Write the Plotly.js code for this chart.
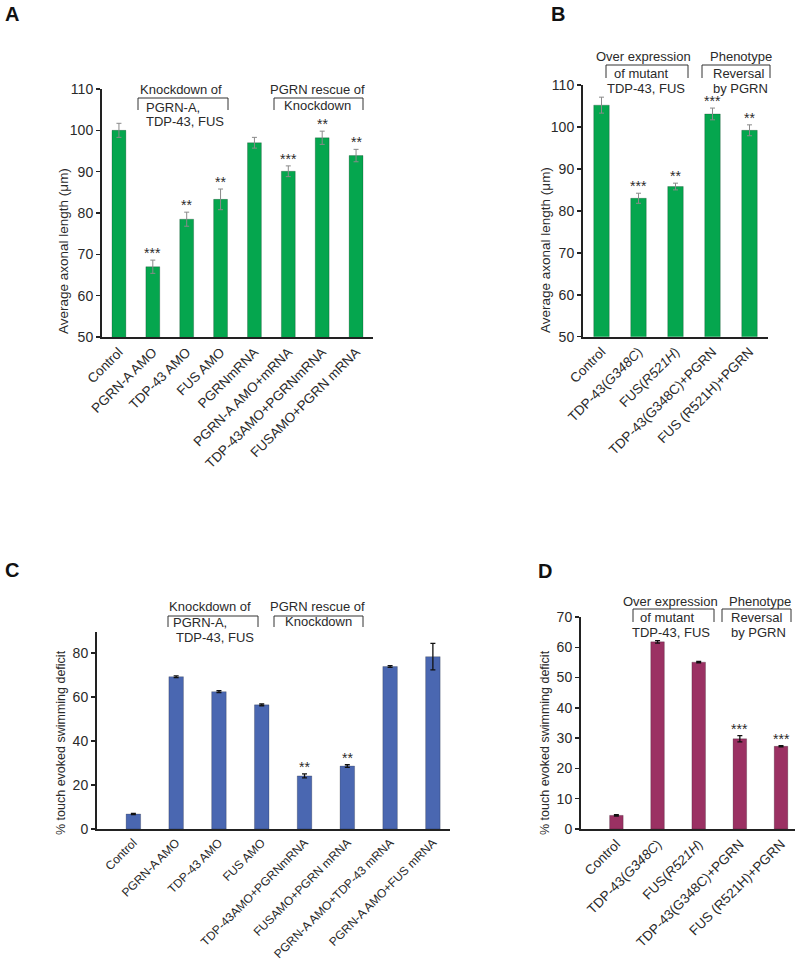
<!DOCTYPE html>
<html>
<head>
<meta charset="utf-8">
<script src="https://cdn.plot.ly/plotly-3.0.1.min.js"></script>
<style>html,body{margin:0;padding:0;background:#fff;}#chart{width:798px;height:960px;}</style>
</head>
<body>
<div id="chart"></div>
<script>
// ---------- DATA ----------
const catA = ['Control','PGRN-A AMO','TDP-43 AMO','FUS AMO','PGRNmRNA','PGRN-A AMO+mRNA','TDP-43AMO+PGRNmRNA','FUSAMO+PGRN mRNA'];
const valA = [100, 67.0, 78.5, 83.3, 97.0, 90.1, 98.2, 93.9];
const errA = [1.7, 1.6, 1.7, 2.5, 1.3, 1.3, 1.6, 1.5];
const sigA = ['', '***', '**', '**', '', '***', '**', '**'];

const catB = ['Control','TDP-43(<i>G348C</i>)','FUS(<i>R521H</i>)','TDP-43(G348C)+PGRN','FUS (R521H)+PGRN'];
const valB = [105.2, 83.0, 85.8, 103.1, 99.2];
const errB = [1.9, 1.2, 0.8, 1.4, 1.3];
const sigB = ['', '***', '**', '***', '**'];

const catC = ['Control','PGRN-A AMO','TDP-43 AMO','FUS AMO','TDP-43AMO+PGRNmRNA','FUSAMO+PGRN mRNA','PGRN-A AMO+TDP-43 mRNA','PGRN-A AMO+FUS mRNA'];
const valC = [6.8, 69.2, 62.4, 56.4, 24.1, 28.6, 73.8, 78.3];
const errC = [0.3, 0.4, 0.4, 0.4, 0.9, 0.6, 0.4, 6.0];
const sigC = ['', '', '', '', '**', '**', '', ''];

const catD = ['Control','TDP-43(<i>G348C</i>)','FUS(<i>R521H</i>)','TDP-43(G348C)+PGRN','FUS (R521H)+PGRN'];
const valD = [4.5, 61.8, 55.1, 29.8, 27.3];
const errD = [0.2, 0.4, 0.2, 1.0, 0.2];
const sigD = ['', '', '', '***', '***'];

const titleAB = 'Average axonal length (μm)';
const titleCD = '% touch evoked swimming deficit';

// ---------- STYLE / LAYOUT ----------
const W = 798, H = 960;
const X = px => px / W;
const Y = py => 1 - py / H;
const FONT = 'Arial, "Liberation Sans", sans-serif';
const TXT = '#2a2a2a';
const GREEN = '#05a64e', BLUE = '#4a67b1', MAROON = '#9b3163';

function bar(cat, val, err, color, xa, ya, width, ecol, ethick) {
  return {
    type: 'bar', x: cat, y: val, xaxis: xa, yaxis: ya, width: width,
    marker: {color: color, line: {color: 'rgba(0,0,0,0.35)', width: 0.6}},
    error_y: {type: 'data', array: err, visible: true, color: ecol, thickness: ethick, width: 2.5},
    hoverinfo: 'skip', showlegend: false
  };
}

const data = [
  bar(catA, valA, errA, GREEN, 'x', 'y', 0.41, '#8a8a8a', 1),
  bar(catB, valB, errB, GREEN, 'x2', 'y2', 0.42, '#8a8a8a', 1),
  bar(catC, valC, errC, BLUE, 'x3', 'y3', 0.34, '#111', 1.3),
  bar(catD, valD, errD, MAROON, 'x4', 'y4', 0.33, '#111', 1.3)
];

function xax(dom, range, anchor, fs) {
  return {domain: dom, range: range, anchor: anchor, type: 'category',
    showline: true, linecolor: '#222', linewidth: 2, ticks: '', showgrid: false, zeroline: false,
    tickangle: -45, tickfont: {family: FONT, size: fs, color: TXT}, fixedrange: true};
}
function yax(dom, range, dtick, anchor, tickvals) {
  const o = {domain: dom, range: range, anchor: anchor, dtick: dtick,
    showline: true, linecolor: '#222', linewidth: 2, ticks: 'outside', ticklen: 4, tickwidth: 1.5, tickcolor: '#222',
    showgrid: false, zeroline: false, tickfont: {family: FONT, size: 14, color: TXT}, fixedrange: true};
  if (tickvals) { o.tickvals = tickvals; o.tickmode = 'array'; }
  return o;
}

const layout = {
  width: W, height: H, margin: {l: 0, r: 0, t: 0, b: 0},
  paper_bgcolor: '#fff', plot_bgcolor: 'rgba(0,0,0,0)',
  font: {family: FONT, color: TXT},
  xaxis: xax([X(102), X(373)], [-0.5, 7.5], 'y', 13.5),
  yaxis: yax([Y(337), Y(89)], [50, 110], 10, 'x'),
  xaxis2: xax([X(583), X(768)], [-0.5, 4.5], 'y2', 13.5),
  yaxis2: yax([Y(336.7), Y(85)], [50, 110], 10, 'x2'),
  xaxis3: xax([X(97), X(450)], [-0.85, 7.4], 'y3', 12),
  yaxis3: yax([Y(829), Y(632)], [0, 89.5], 20, 'x3', [0, 20, 40, 60, 80]),
  xaxis4: xax([X(581), X(795)], [-0.86, 4.34], 'y4', 13.5),
  yaxis4: yax([Y(829), Y(617)], [0, 70], 10, 'x4'),
  annotations: [], shapes: []
};

function txt(x, y, t, opts) {
  return Object.assign({xref: 'paper', yref: 'paper', x: X(x), y: Y(y), text: t, showarrow: false, borderpad: 0,
    font: {family: FONT, size: 13, color: TXT}, xanchor: 'center', yanchor: 'middle'}, opts || {});
}
function bracket(x1, x2, yt, yb) {
  return {type: 'path', xref: 'paper', yref: 'paper',
    path: `M ${X(x1)} ${Y(yb)} L ${X(x1)} ${Y(yt)} L ${X(x2)} ${Y(yt)} L ${X(x2)} ${Y(yb)}`,
    line: {color: '#333', width: 1}};
}

const A = layout.annotations, S = layout.shapes;
// panel letters
A.push(txt(12, 14, '<b>A</b>', {font: {family: FONT, size: 20, color: '#111'}}));
A.push(txt(558, 14, '<b>B</b>', {font: {family: FONT, size: 20, color: '#111'}}));
A.push(txt(12, 570, '<b>C</b>', {font: {family: FONT, size: 20, color: '#111'}}));
A.push(txt(545, 571, '<b>D</b>', {font: {family: FONT, size: 20, color: '#111'}}));
// y titles
A.push(txt(63, 251, titleAB, {textangle: -90, font: {family: FONT, size: 13.5, color: TXT}}));
A.push(txt(545, 250, titleAB, {textangle: -90, font: {family: FONT, size: 13.5, color: TXT}}));
A.push(txt(61, 743, titleCD, {textangle: -90, font: {family: FONT, size: 12.5, color: TXT}}));
A.push(txt(545, 743, titleCD, {textangle: -90, font: {family: FONT, size: 12.5, color: TXT}}));

// Panel A group labels
A.push(txt(181, 89, 'Knockdown of'));
S.push(bracket(138, 228, 98, 110));
A.push(txt(145, 107, 'PGRN-A,', {xanchor: 'left'}));
A.push(txt(145, 121.5, 'TDP-43, FUS', {xanchor: 'left'}));
A.push(txt(317, 89, 'PGRN rescue of'));
S.push(bracket(274, 363, 98, 110));
A.push(txt(317, 105, 'Knockdown'));

// Panel B group labels
A.push(txt(643, 56, 'Over expression'));
S.push(bracket(606, 688, 65, 78));
A.push(txt(613, 73, 'of mutant', {xanchor: 'left'}));
A.push(txt(646, 88, 'TDP-43, FUS'));
A.push(txt(741, 56, 'Phenotype'));
S.push(bracket(702, 770, 65, 78));
A.push(txt(712, 73, 'Reversal', {xanchor: 'left'}));
A.push(txt(712, 88, 'by PGRN', {xanchor: 'left'}));

// Panel C group labels
A.push(txt(210, 606, 'Knockdown of'));
S.push(bracket(168, 258, 616, 627));
A.push(txt(172, 622, 'PGRN-A,', {xanchor: 'left'}));
A.push(txt(175, 637, 'TDP-43, FUS', {xanchor: 'left'}));
A.push(txt(317, 606, 'PGRN rescue of'));
S.push(bracket(274, 363, 616, 627));
A.push(txt(318, 621, 'Knockdown'));

// Panel D group labels
A.push(txt(670, 601, 'Over expression'));
S.push(bracket(633, 714, 609, 622));
A.push(txt(639, 617, 'of mutant', {xanchor: 'left'}));
A.push(txt(671, 632, 'TDP-43, FUS'));
A.push(txt(760, 601, 'Phenotype'));
S.push(bracket(722, 791, 609, 622));
A.push(txt(730, 617, 'Reversal', {xanchor: 'left'}));
A.push(txt(730, 632, 'by PGRN', {xanchor: 'left'}));

// significance stars
function stars(cat, val, err, sig, xr, yr) {
  cat.forEach((c, i) => {
    if (!sig[i]) return;
    A.push({xref: xr, yref: yr, x: c, y: val[i] + err[i], text: sig[i], showarrow: false,
      yanchor: 'bottom', yshift: -3, font: {family: FONT, size: 14, color: TXT}});
  });
}
stars(catA, valA, errA, sigA, 'x', 'y');
stars(catB, valB, errB, sigB, 'x2', 'y2');
stars(catC, valC, errC, sigC, 'x3', 'y3');
stars(catD, valD, errD, sigD, 'x4', 'y4');

Plotly.newPlot('chart', data, layout, {staticPlot: true, displayModeBar: false});
</script>
</body>
</html>
